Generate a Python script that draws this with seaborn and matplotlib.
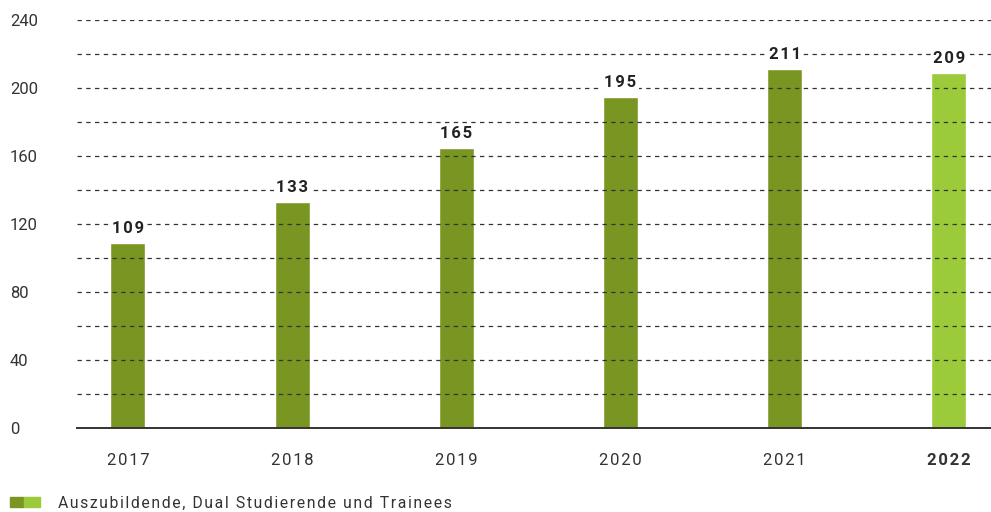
import matplotlib
matplotlib.use("Agg")
import matplotlib.pyplot as plt
import matplotlib.patches as mpatches
import seaborn as sns
import pandas as pd

years = ["2017", "2018", "2019", "2020", "2021", "2022"]
values = [109, 133, 165, 195, 211, 209]
legend_label = "Auszubildende, Dual Studierende und Trainees"
y_ticks = [0, 40, 80, 120, 160, 200, 240]

dark_green = "#7A9622"
light_green = "#9BCB3A"
text_color = "#333333"

HAIR = "\u200a"


def spaced(s, sep=HAIR):
    """Add tracking between characters."""
    return sep.join(s)


sns.set_theme(style="white")
plt.rcParams["font.family"] = ["Roboto", "DejaVu Sans"]

df = pd.DataFrame({"year": years, "value": values})
palette = [dark_green] * (len(years) - 1) + [light_green]

fig = plt.figure(figsize=(9.91, 5.12), dpi=100)
ax = fig.add_axes([77 / 991, 1 - 428 / 512, 1 - 77 / 991, (428 - 20) / 512])

sns.barplot(data=df, x="year", y="value", hue="year", palette=palette,
            legend=False, width=0.213, saturation=1, ax=ax, zorder=2)

ax.set_xlim(-0.31, 5.256)
ax.set_ylim(0, 240)

# dashed grid lines every 20, drawn above the bars
for g in range(20, 241, 20):
    ax.axhline(g, color="#333333", linestyle=(0, (3.5, 3.5)), linewidth=0.9, zorder=3)

for s in ["top", "right", "left"]:
    ax.spines[s].set_visible(False)
ax.spines["bottom"].set_color("#333333")
ax.spines["bottom"].set_linewidth(1.4)
ax.spines["bottom"].set_zorder(4)

ax.set_yticks(y_ticks)
ax.set_yticklabels([str(t) for t in y_ticks], ha="left", fontsize=12, color=text_color)
ax.tick_params(axis="y", length=0, pad=67 * 0.72)
ax.set_xticks(range(len(years)))
ax.set_xticklabels([spaced(y) for y in years])
ax.tick_params(axis="x", length=0, pad=18, labelsize=12, labelcolor=text_color)
ax.set_xlabel("")
ax.set_ylabel("")
ax.get_xticklabels()[-1].set_fontweight("bold")

# value labels above bars
for i, v in enumerate(values):
    ax.text(i, v + 8.5, spaced(str(v)), ha="center", va="center", fontsize=12,
            fontweight="bold", color="#222222", zorder=5,
            bbox=dict(facecolor="white", edgecolor="none", pad=1.5))

# legend at the bottom
fig.patches.append(mpatches.Rectangle((10 / 991, 1 - 507 / 512), 14 / 991, 10 / 512,
                                      transform=fig.transFigure, color=dark_green))
fig.patches.append(mpatches.Rectangle((24 / 991, 1 - 507 / 512), 16 / 991, 10 / 512,
                                      transform=fig.transFigure, color=light_green))
fig.text(58 / 991, 1 - 503 / 512, spaced(legend_label), ha="left", va="center",
         fontsize=11.3, color=text_color)

fig.savefig("out.png", dpi=100)
